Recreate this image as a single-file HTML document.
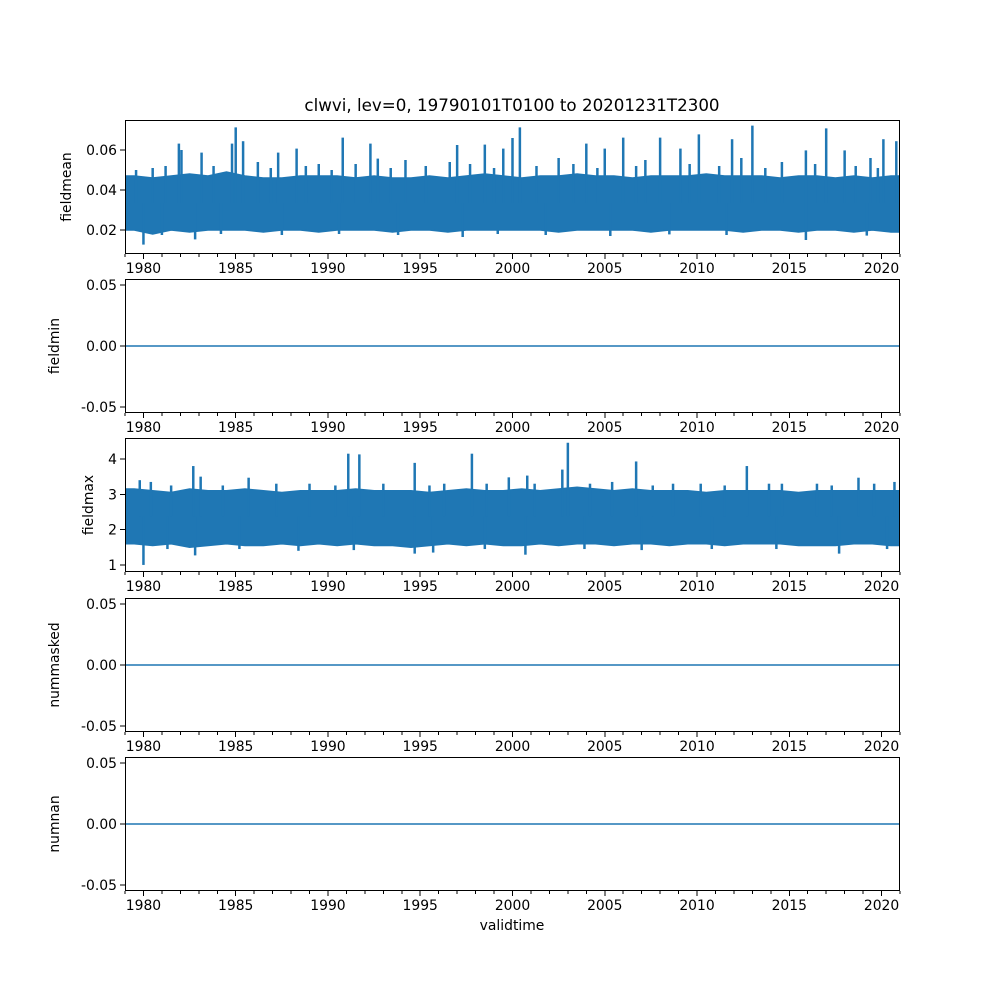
<!DOCTYPE html>
<html><head><meta charset="utf-8"><style>
body{margin:0;background:#fff}
svg text{font-family:"DejaVu Sans","Liberation Sans",sans-serif;font-size:13.9px;fill:#000}
</style></head><body>
<svg id="fig" width="1000" height="1000" xmlns="http://www.w3.org/2000/svg">
<rect width="1000" height="1000" fill="#fff"/>
<text x="512" y="111" text-anchor="middle" style="font-size:16.7px">clwvi, lev=0, 19790101T0100 to 20201231T2300</text>
<text x="512" y="930" text-anchor="middle">validtime</text>
</svg>
<script>
const meanHi = [0.047,0.046,0.047,0.048,0.047,0.049,0.047,0.046,0.046,0.047,0.047,0.047,0.046,0.047,0.046,0.046,0.047,0.046,0.047,0.048,0.047,0.046,0.047,0.047,0.048,0.047,0.047,0.046,0.047,0.047,0.047,0.048,0.047,0.047,0.047,0.046,0.047,0.047,0.046,0.047,0.046,0.047];
const meanLo = [0.020,0.018,0.020,0.019,0.020,0.020,0.020,0.019,0.020,0.020,0.019,0.020,0.020,0.020,0.019,0.020,0.020,0.019,0.020,0.020,0.020,0.020,0.020,0.019,0.020,0.020,0.020,0.020,0.019,0.020,0.020,0.020,0.020,0.019,0.020,0.020,0.019,0.020,0.020,0.019,0.020,0.019];
const meanSpikeT = [1981.92,1982.06,1983.15,1984.8,1985.0,1985.4,1987.3,1988.3,1990.8,1992.3,1992.7,1997.0,1998.5,1999.5,2000.0,2000.4,2004.0,2005.0,2006.0,2008.0,2009.1,2010.1,2011.9,2013.0,2015.9,2017.0,2018.0,2020.1,2020.8,1981.2,1986.2,1989.5,1994.2,1996.6,2002.5,2007.2,2012.4,2014.6,2019.4,1979.6,1980.5,1983.8,1986.9,1988.8,1990.2,1991.5,1993.4,1995.3,1997.7,1999.0,2001.3,2003.3,2004.6,2006.7,2009.6,2011.2,2013.7,2016.4,2018.6,2019.8];
const meanSpikeV = [0.0632,0.060,0.0587,0.0632,0.0713,0.0644,0.0587,0.0607,0.0662,0.0632,0.0557,0.0625,0.0627,0.0607,0.066,0.0713,0.0632,0.0607,0.0662,0.0662,0.0607,0.0678,0.0654,0.0722,0.0598,0.0708,0.0598,0.0654,0.0644,0.052,0.054,0.053,0.055,0.054,0.056,0.055,0.056,0.054,0.056,0.050,0.051,0.052,0.051,0.052,0.050,0.053,0.051,0.052,0.053,0.051,0.052,0.053,0.051,0.052,0.053,0.052,0.051,0.053,0.052,0.051];
const meanDipT = [1980.0,1982.8,2015.9,1997.3,2005.3,1981.0,1984.2,1987.5,1990.6,1993.8,1999.2,2001.8,2008.5,2011.6,2019.2];
const meanDipV = [0.0127,0.0153,0.015,0.0165,0.017,0.0175,0.018,0.0175,0.018,0.0175,0.018,0.0175,0.0178,0.0175,0.0172];
const maxHi = [3.15,3.1,3.05,3.15,3.1,3.1,3.15,3.1,3.05,3.1,3.1,3.1,3.15,3.1,3.1,3.1,3.05,3.1,3.15,3.1,3.1,3.15,3.1,3.15,3.2,3.15,3.1,3.15,3.1,3.1,3.1,3.05,3.1,3.1,3.1,3.1,3.05,3.1,3.1,3.1,3.1,3.1];
const maxLo = [1.6,1.55,1.6,1.5,1.55,1.6,1.55,1.55,1.6,1.55,1.6,1.55,1.6,1.55,1.55,1.5,1.55,1.6,1.55,1.6,1.55,1.55,1.6,1.55,1.6,1.6,1.55,1.6,1.6,1.55,1.6,1.6,1.55,1.6,1.6,1.6,1.55,1.55,1.55,1.6,1.6,1.55];
const maxSpikeT = [1982.7,1983.1,1985.7,1991.1,1991.7,1994.7,1997.8,1999.8,2000.8,2002.7,2003.0,2006.7,2012.7,2018.75,2020.7,1979.8,1980.4,1989.0,1996.3,2001.2,2005.4,2008.7,2014.6,2016.5,1981.5,1984.3,1987.2,1990.4,1993.0,1995.5,1998.6,2004.2,2007.6,2010.2,2011.5,2013.9,2017.3,2019.6];
const maxSpikeV = [3.8,3.5,3.47,4.15,4.13,3.89,4.15,3.48,3.53,3.7,4.46,3.93,3.8,3.47,3.35,3.4,3.35,3.3,3.3,3.3,3.35,3.3,3.3,3.3,3.25,3.25,3.3,3.25,3.3,3.25,3.3,3.3,3.25,3.3,3.25,3.3,3.25,3.3];
const maxDipT = [1980.0,1982.8,2000.7,2017.7,1994.7,1995.7,1988.4,1981.3,1985.2,1991.4,1998.5,2003.9,2007.0,2010.8,2014.3,2020.3];
const maxDipV = [1.0,1.27,1.29,1.32,1.32,1.35,1.4,1.45,1.45,1.42,1.45,1.45,1.42,1.45,1.45,1.45];
const xTickLabels = ["1980","1985","1990","1995","2000","2005","2010","2015","2020"];
const xTickYears = [1980,1985,1990,1995,2000,2005,2010,2015,2020];

const svg = document.getElementById('fig');
const NS = 'http://www.w3.org/2000/svg';
const L = 125, R = 900, T0 = 1979.0, T1 = 2021.0;
const C = '#1f77b4';
const xs = t => L + (t - T0) / (T1 - T0) * (R - L);
function mk(tag, attrs){const e=document.createElementNS(NS,tag);for(const k in attrs)e.setAttribute(k,attrs[k]);return e;}

const panels = [
 {name:'fieldmean', top:120, bot:254, ymin:0.008, ymax:0.075, ticks:[0.02,0.04,0.06], fmt:v=>v.toFixed(2), lab:71},
 {name:'fieldmin', top:279, bot:413, ymin:-0.055, ymax:0.055, ticks:[-0.05,0,0.05], fmt:v=>v.toFixed(2), lab:59, zero:true},
 {name:'fieldmax', top:438, bot:572, ymin:0.80, ymax:4.594, ticks:[1,2,3,4], fmt:v=>String(v), lab:93},
 {name:'nummasked', top:598, bot:732, ymin:-0.055, ymax:0.055, ticks:[-0.05,0,0.05], fmt:v=>v.toFixed(2), lab:59, zero:true},
 {name:'numnan', top:757, bot:891, ymin:-0.055, ymax:0.055, ticks:[-0.05,0,0.05], fmt:v=>v.toFixed(2), lab:59, zero:true}
];

panels.forEach((p, pi) => {
  const g = mk('g', {});
  
  
  svg.appendChild(g);
  const ys = v => p.bot - (v - p.ymin) / (p.ymax - p.ymin) * (p.bot - p.top);
  const clip = mk('clipPath', {id:'c'+pi});
  clip.appendChild(mk('rect',{x:L,y:p.top,width:R-L,height:p.bot-p.top}));
  g.appendChild(clip);
  const dg = mk('g', {'clip-path':'url(#c'+pi+')'});
  g.appendChild(dg);
  let hi=null, lo=null, st=null, sv=null, dt=null, dv=null;
  if (pi===0){hi=meanHi;lo=meanLo;st=meanSpikeT;sv=meanSpikeV;dt=meanDipT;dv=meanDipV;}
  if (pi===2){hi=maxHi;lo=maxLo;st=maxSpikeT;sv=maxSpikeV;dt=maxDipT;dv=maxDipV;}
  if (hi){
    let d = 'M' + xs(T0) + ',' + ys(hi[0]);
    hi.forEach((v,i)=>{ d += ' L' + xs(T0+i+0.5) + ',' + ys(v); });
    d += ' L' + xs(T1) + ',' + ys(hi[hi.length-1]);
    d += ' L' + xs(T1) + ',' + ys(lo[lo.length-1]);
    for (let i=lo.length-1;i>=0;i--) d += ' L' + xs(T0+i+0.5) + ',' + ys(lo[i]);
    d += ' L' + xs(T0) + ',' + ys(lo[0]) + ' Z';
    const band = mk('path', {d:d, fill:C, stroke:C, 'stroke-width':1.5});
    
    
    dg.appendChild(band);
    const mid = (hi[0]+lo[0])/2;
    st.forEach((t,i)=>{
      const ln = mk('line',{x1:xs(t),x2:xs(t),y1:ys(mid),y2:ys(sv[i]),stroke:C,'stroke-width':2.5});
      
      
      dg.appendChild(ln);
    });
    dt.forEach((t,i)=>{
      const ln = mk('line',{x1:xs(t),x2:xs(t),y1:ys(mid),y2:ys(dv[i]),stroke:C,'stroke-width':2.5});
      
      
      dg.appendChild(ln);
    });
  }
  if (p.zero){
    const ln = mk('line',{x1:L,x2:R,y1:ys(0),y2:ys(0),stroke:C,'stroke-width':1.5});
    
    
    dg.appendChild(ln);
  }
  const frame = mk('rect',{x:L+0.5,y:p.top+0.5,width:R-L-1,height:p.bot-p.top-1,fill:'none',stroke:'#000','stroke-width':1,'shape-rendering':'crispEdges'});
  
  
  g.appendChild(frame);
  p.ticks.forEach(v=>{
    const y = ys(v);
    g.appendChild(mk('line',{x1:L-4.9,x2:L,y1:y,y2:y,stroke:'#000','stroke-width':1,'shape-rendering':'crispEdges'}));
    const tx = mk('text',{x:L-8,y:y+5,'text-anchor':'end'});
    tx.textContent = p.fmt(v);
    
    
    g.appendChild(tx);
  });
  for (let yr=1979; yr<=2021; yr++){
    g.appendChild(mk('line',{x1:xs(yr),x2:xs(yr),y1:p.bot,y2:p.bot+2.8,stroke:'#000','stroke-width':1,'shape-rendering':'crispEdges'}));
  }
  xTickYears.forEach((yr,i)=>{
    const x = xs(yr);
    g.appendChild(mk('line',{x1:x,x2:x,y1:p.bot,y2:p.bot+4.9,stroke:'#000','stroke-width':1,'shape-rendering':'crispEdges'}));
    const tx = mk('text',{x:x,y:p.bot+19,'text-anchor':'middle'});
    tx.textContent = xTickLabels[i];
    
    
    g.appendChild(tx);
  });
  const cy = (p.top+p.bot)/2;
  const yl = mk('text',{x:p.lab,y:cy,'text-anchor':'middle',transform:'rotate(-90 '+p.lab+' '+cy+')'});
  yl.textContent = p.name;
  
  
  g.appendChild(yl);
});
</script>
</body></html>
